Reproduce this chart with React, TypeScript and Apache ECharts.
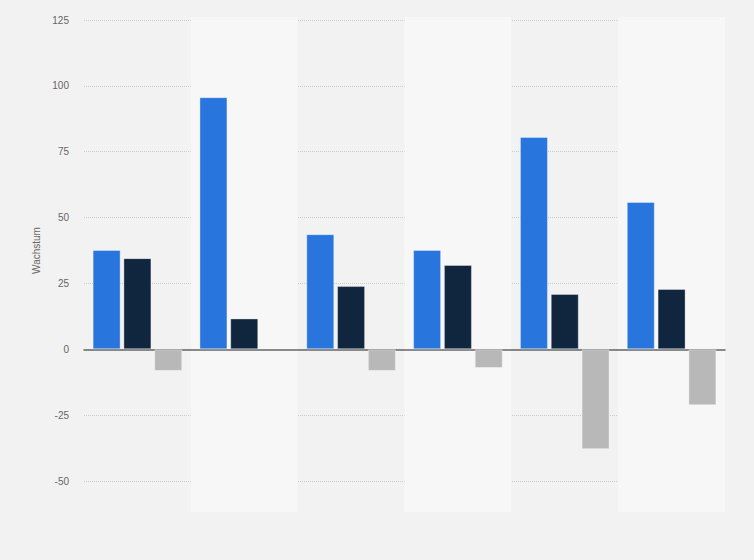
import { useEffect, useRef } from 'react';
import * as echarts from 'echarts';

// Kategorien (ohne sichtbare Beschriftung im Original)
const categories = ['1', '2', '3', '4', '5', '6'];

// Wachstum in Prozent, drei Reihen
const seriesBlue = [37.7, 95.7, 43.7, 37.7, 80.6, 55.9];
const seriesNavy = [34.6, 11.7, 24.0, 32.0, 21.0, 22.9];
const seriesGrey = [-8.2, null, -8.2, -7.1, -37.9, -21.2];

const yTicks = { min: -50, max: 125, interval: 25 };

export default function App() {
  const chartRef = useRef<HTMLDivElement>(null);

  useEffect(() => {
    if (!chartRef.current) return;
    const chart = echarts.init(chartRef.current, null, { renderer: 'svg' });

    const barStyle = (color: string) => ({
      color,
      borderColor: 'rgba(255,255,255,0.35)',
      borderWidth: 1,
    });

    const option: echarts.EChartsOption = {
      animation: false,
      backgroundColor: '#f2f2f2',
      textStyle: { fontFamily: '"Liberation Sans", Arial, sans-serif' },
      grid: [
        // Hintergrundstreifen
        { left: 84, right: 29, top: 17, bottom: 48 },
        // eigentliches Diagramm
        { left: 84, right: 29, top: 20, bottom: 79 },
      ],
      xAxis: [
        {
          gridIndex: 0,
          type: 'category',
          data: categories,
          z: 0,
          axisLine: { show: false },
          axisTick: { show: false },
          axisLabel: { show: false },
          splitLine: { show: false },
          splitArea: {
            show: true,
            areaStyle: { color: ['rgba(0,0,0,0)', '#f7f7f7'] },
          },
        },
        {
          gridIndex: 1,
          type: 'category',
          data: categories,
          axisLine: { show: true, onZero: true, lineStyle: { color: '#666666', width: 1.5 } },
          axisTick: { show: false },
          axisLabel: { show: false },
          splitLine: { show: false },
        },
      ],
      yAxis: [
        {
          gridIndex: 0,
          type: 'value',
          show: false,
          splitLine: { show: false },
        },
        {
          gridIndex: 1,
          type: 'value',
          min: yTicks.min,
          max: yTicks.max,
          interval: yTicks.interval,
          name: 'Wachstum',
          nameLocation: 'middle',
          nameGap: 38,
          nameTextStyle: { color: '#666666', fontSize: 10 },
          axisLine: { show: false },
          axisTick: { show: false },
          axisLabel: { color: '#666666', fontSize: 10, margin: 15 },
          splitLine: {
            show: true,
            lineStyle: { color: '#cccccc', type: [1, 1], width: 1 },
          },
        },
      ],
      series: [
        {
          type: 'bar',
          xAxisIndex: 1,
          yAxisIndex: 1,
          data: seriesBlue,
          barWidth: 28,
          barGap: '10%',
          itemStyle: barStyle('#2876dd'),
        },
        {
          type: 'bar',
          xAxisIndex: 1,
          yAxisIndex: 1,
          data: seriesNavy,
          barWidth: 28,
          barGap: '10%',
          itemStyle: barStyle('#10253e'),
        },
        {
          type: 'bar',
          xAxisIndex: 1,
          yAxisIndex: 1,
          data: seriesGrey,
          barWidth: 28,
          barGap: '10%',
          itemStyle: barStyle('#b8b8b8'),
        },
      ],
    };

    chart.setOption(option);
    return () => chart.dispose();
  }, []);

  return (
    <div
      ref={chartRef}
      style={{ position: 'absolute', left: 0, top: 0, width: 754, height: 560 }}
    />
  );
}
